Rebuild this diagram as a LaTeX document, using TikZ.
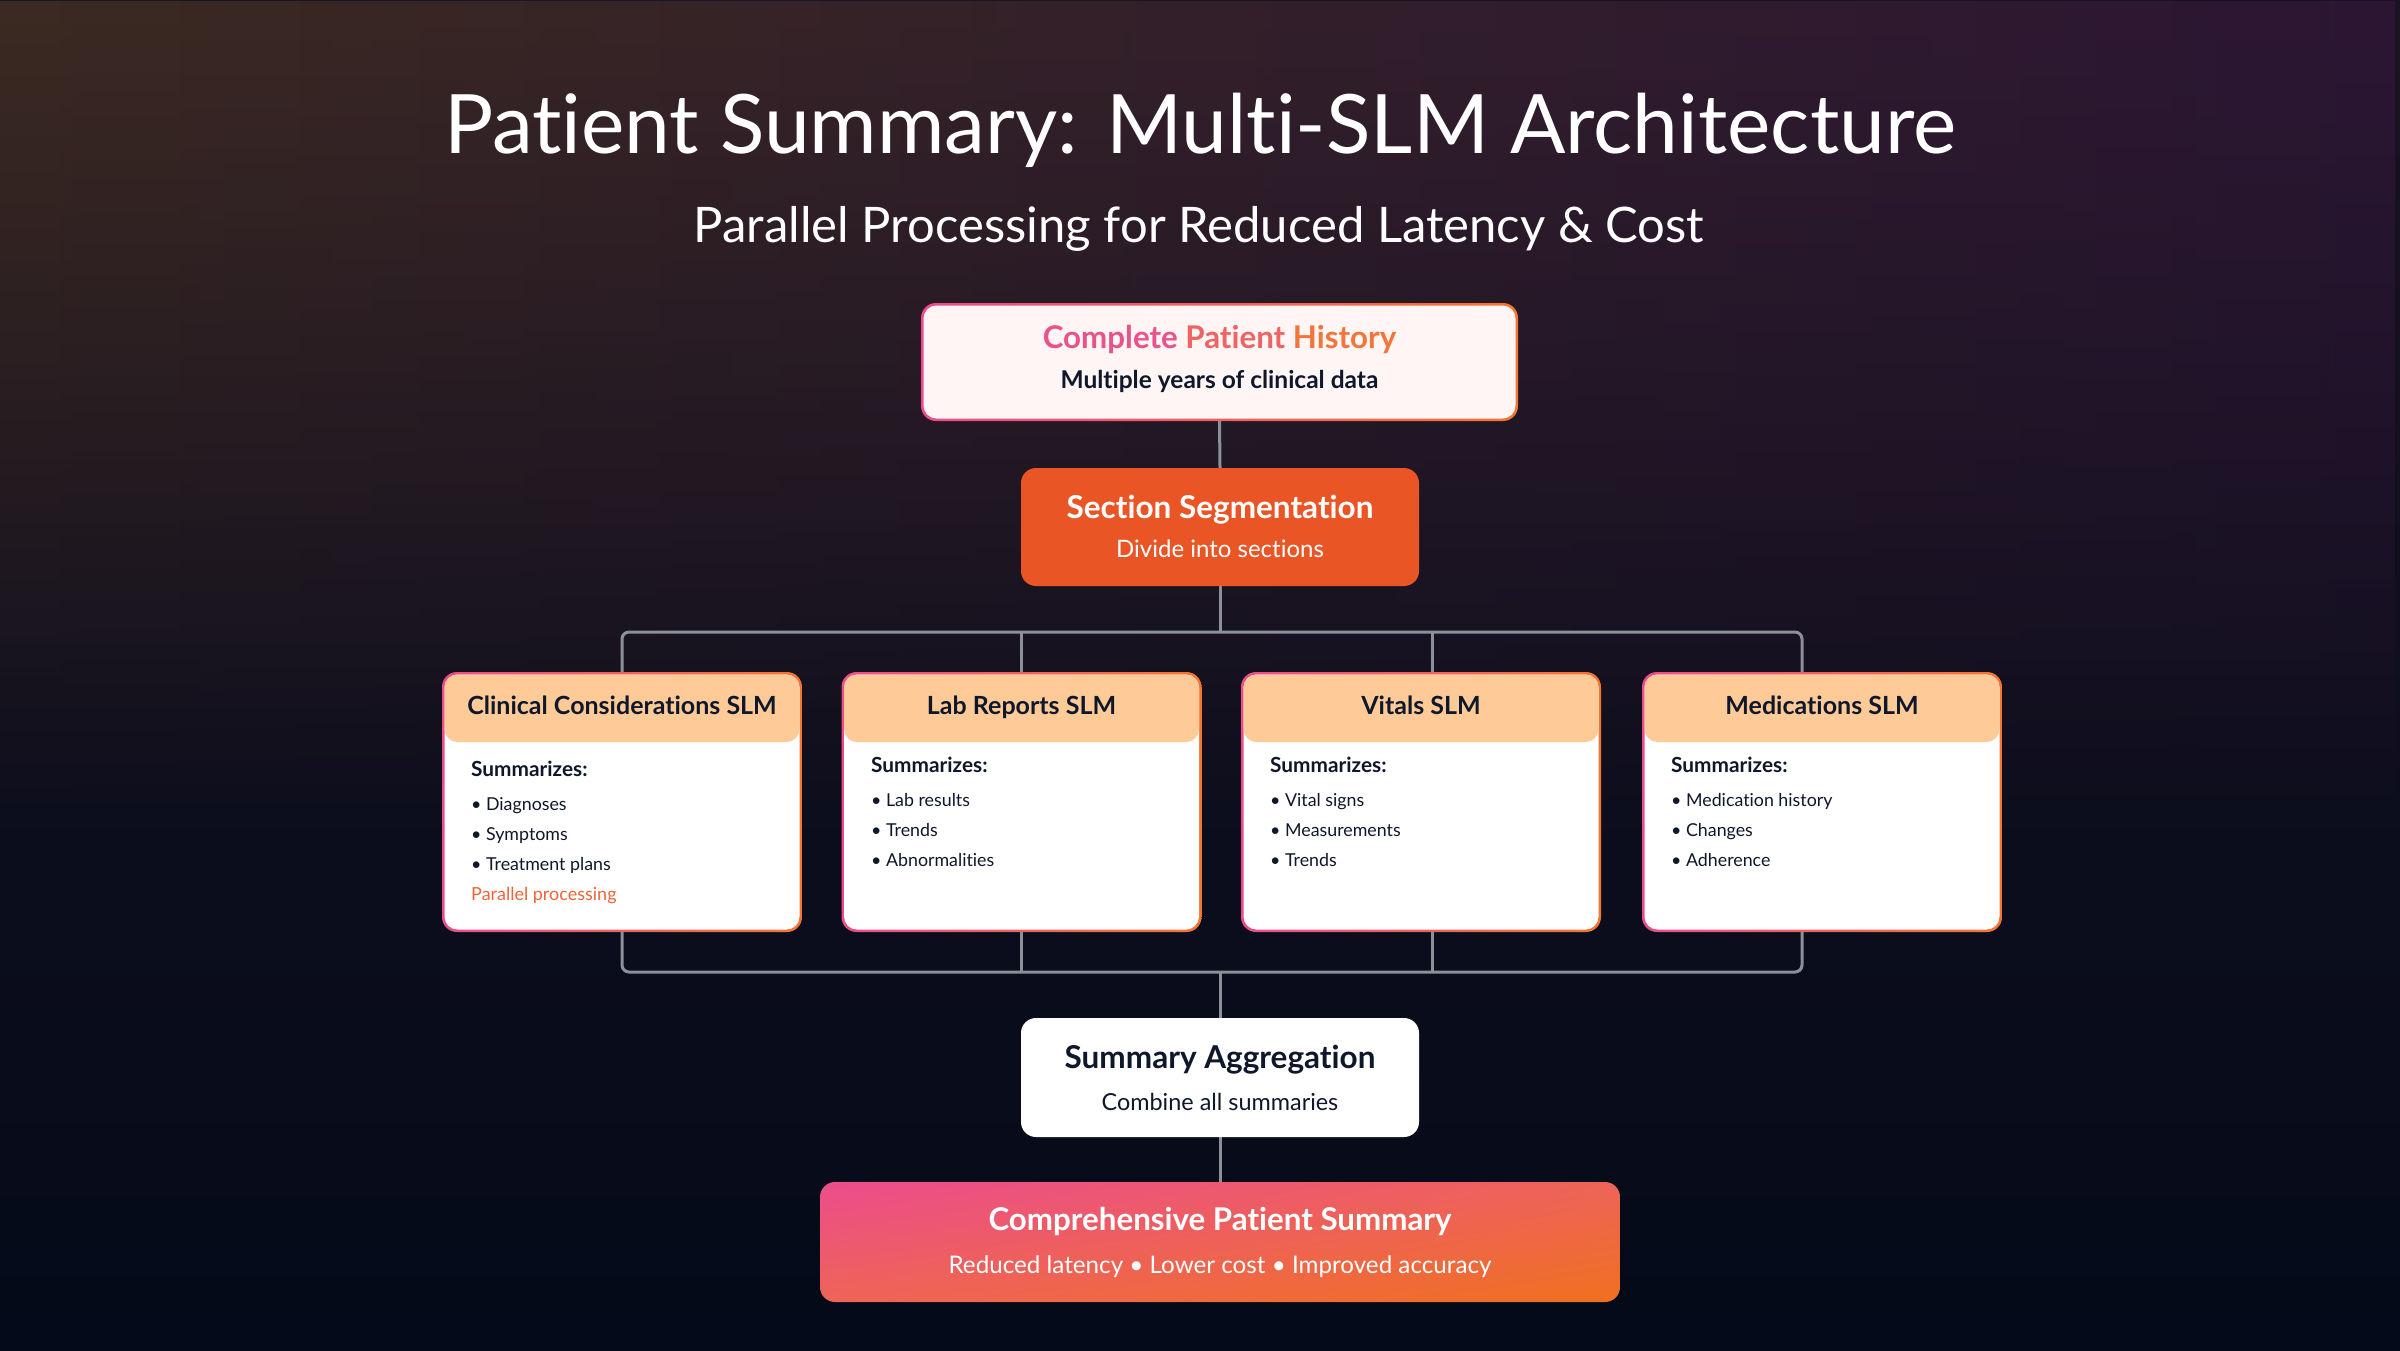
\documentclass[tikz,border=0pt]{standalone}
\usepackage{fontspec}
\setmainfont{Lato}[Ligatures={TeX,NoCommon}]
\usetikzlibrary{fadings,shadings}
\tikzfading[name=fadedown, top color=transparent!0, bottom color=transparent!100]
\definecolor{ink}{HTML}{0F172A}
\definecolor{pinkc}{HTML}{EC4C8C}
\definecolor{orangec}{HTML}{F47530}
\definecolor{peach}{HTML}{FECB98}
\definecolor{segc}{HTML}{EA5526}
\definecolor{linec}{HTML}{8C9099}
\definecolor{histfill}{HTML}{FFF5F5}
\definecolor{bgtop}{HTML}{1A1322}
\definecolor{bgbot}{HTML}{040A19}
\definecolor{cA}{HTML}{3C2A22}
\definecolor{cB}{HTML}{5A2230}
\definecolor{cC}{HTML}{2C1634}
\definecolor{hA}{HTML}{E9528A}
\definecolor{hB}{HTML}{EE6462}
\definecolor{hC}{HTML}{F2763A}
\definecolor{finB}{HTML}{EE6458}
\definecolor{finC}{HTML}{F0701F}
\definecolor{pp}{HTML}{F0643A}
\pgfdeclarelayer{back}
\pgfdeclarelayer{lines}
\pgfsetlayers{back,lines,main}
\newcommand\fs[1]{\fontsize{#1}{#1}\selectfont}
\newcommand\slmcard[3]{%
  \node[cardouter] (#1) at (#2,802) {};
  \fill[white, rounded corners=13pt] ({#2-177.5},674.5) rectangle ({#2+177.5},929.5);
  \fill[peach, rounded corners=13pt] ({#2-177.5},674.5) rectangle ({#2+177.5},742);
  \node[cardtitle] (#1t) at (#2,714) {#3};
}
\begin{document}
\begin{tikzpicture}[x=1pt,y=-1pt,
  conn/.style={draw=linec, line width=3pt},
  cardouter/.style={rectangle, rounded corners=15pt, minimum width=360pt, minimum height=260pt, left color=pinkc, right color=orangec, inner sep=0pt},
  cardtitle/.style={anchor=base, font=\bfseries\fs{25}, text=ink, inner sep=0pt},
  sumlbl/.style={anchor=base west, font=\bfseries\fs{20.8}, text=ink, inner sep=0pt},
  item/.style={anchor=base west, font=\fs{17.8}, text=ink, inner sep=0pt},
  boxtitle/.style={anchor=base, font=\bfseries\fs{31.3}, inner sep=0pt},
  boxsub/.style={anchor=base, font=\fs{24}, inner sep=0pt},
]
\useasboundingbox (0,0) rectangle (2400,1350);
\begin{pgfonlayer}{back}
\shade[top color=bgtop, bottom color=bgbot] (0,0) rectangle (2400,1350);
\shade[left color=cA, middle color=cB, right color=cC, path fading=fadedown] (0,0) rectangle (2400,820);
\end{pgfonlayer}

% titles
\node[anchor=base, font=\fs{82}, text=white, inner sep=0pt] (title) at (1200,153) {Patient Summary: Multi-SLM Architecture};
\node[anchor=base, font=\fs{49}, text=white, inner sep=0pt] (subtitle) at (1199,242) {Parallel Processing for Reduced Latency \& Cost};

% top box
\node[rectangle, rounded corners=15pt, minimum width=597pt, minimum height=118pt, left color=pinkc, right color=orangec, inner sep=0pt] (hist) at (1219.5,362) {};
\fill[histfill, rounded corners=13pt] (923.5,305.5) rectangle (1515.5,418.5);
\node[boxtitle] (histt) at (1219.5,348) {\textcolor{hA}{Complete} \textcolor{hB}{Patient} \textcolor{hC}{History}};
\node[boxsub, font=\bfseries\fs{24.5}, text=ink] (hists) at (1219.5,388) {Multiple years of clinical data};

% segmentation
\node[rectangle, rounded corners=15pt, minimum width=398pt, minimum height=118pt, fill=segc, inner sep=0pt] (seg) at (1220,527) {};
\node[boxtitle, font=\bfseries\fs{31.5}, text=white] (segt) at (1220,518) {Section Segmentation};
\node[boxsub, text=white] (segs) at (1220,557) {Divide into sections};

% cards
\slmcard{clin}{622}{Clinical Considerations SLM}
\slmcard{labs}{1021.5}{Lab Reports SLM}
\slmcard{vit}{1421}{Vitals SLM}
\slmcard{med}{1822}{Medications SLM}

\node[sumlbl] (clins) at (471,776) {Summarizes:};
\node[item] (clin1) at (471,810) {• Diagnoses};
\node[item] (clin2) at (471,840) {• Symptoms};
\node[item] (clin3) at (471,870) {• Treatment plans};
\node[item, text=pp, font=\fs{18}] (clin4) at (471,900) {Parallel processing};

\node[sumlbl] (labss) at (871,772) {Summarizes:};
\node[item] (labs1) at (871,806) {• Lab results};
\node[item] (labs2) at (871,836) {• Trends};
\node[item] (labs3) at (871,866) {• Abnormalities};

\node[sumlbl] (vits) at (1270,772) {Summarizes:};
\node[item] (vit1) at (1270,806) {• Vital signs};
\node[item] (vit2) at (1270,836) {• Measurements};
\node[item] (vit3) at (1270,866) {• Trends};

\node[sumlbl] (meds) at (1671,772) {Summarizes:};
\node[item] (med1) at (1671,806) {• Medication history};
\node[item] (med2) at (1671,836) {• Changes};
\node[item] (med3) at (1671,866) {• Adherence};

% aggregation
\node[rectangle, rounded corners=15pt, minimum width=398pt, minimum height=119pt, fill=white, inner sep=0pt] (agg) at (1220,1077.5) {};
\node[boxtitle, font=\bfseries\fs{31.5}, text=ink] (aggt) at (1220,1068) {Summary Aggregation};
\node[boxsub, font=\fs{23.4}, text=ink] (aggs) at (1220,1110) {Combine all summaries};

% final
\node[rectangle, rounded corners=15pt, minimum width=800pt, minimum height=120pt, upper left=pinkc, upper right=finB, lower left=finB, lower right=finC, inner sep=0pt] (fin) at (1220,1242) {};
\node[boxtitle, font=\bfseries\fs{31.3}, text=white] (fint) at (1220,1230) {Comprehensive Patient Summary};
\node[boxsub, font=\fs{24.2}, text=white] (fins) at (1220,1273) {Reduced latency • Lower cost • Improved accuracy};

% connectors
\coordinate (tb) at (1220,632);
\coordinate (tl) at (622,632);
\coordinate (tr) at (1802,632);
\coordinate (trd) at (1802,672);
\coordinate (tv) at (1432,632);
\coordinate (tvd) at (1432,672);
\coordinate (bb) at (1220,972);
\coordinate (bl) at (622,972);
\coordinate (br) at (1802,972);
\coordinate (bru) at (1802,932);
\coordinate (bv) at (1432,972);
\coordinate (bvu) at (1432,932);
\begin{pgfonlayer}{lines}
\draw[conn] (hist.south) -- (seg.north);
\draw[conn] (seg.south) -- (tb);
\draw[conn, rounded corners=7pt] (clin.north) -- (tl) -- (tr) -- (trd);
\draw[conn] (labs.north) -- (labs.north |- tl);
\draw[conn] (tvd) -- (tv);
\draw[conn, rounded corners=7pt] (clin.south) -- (bl) -- (br) -- (bru);
\draw[conn] (labs.south) -- (labs.south |- bl);
\draw[conn] (bvu) -- (bv);
\draw[conn] (bb) -- (agg.north);
\draw[conn] (agg.south) -- (fin.north);
\end{pgfonlayer}
\end{tikzpicture}
\end{document}
